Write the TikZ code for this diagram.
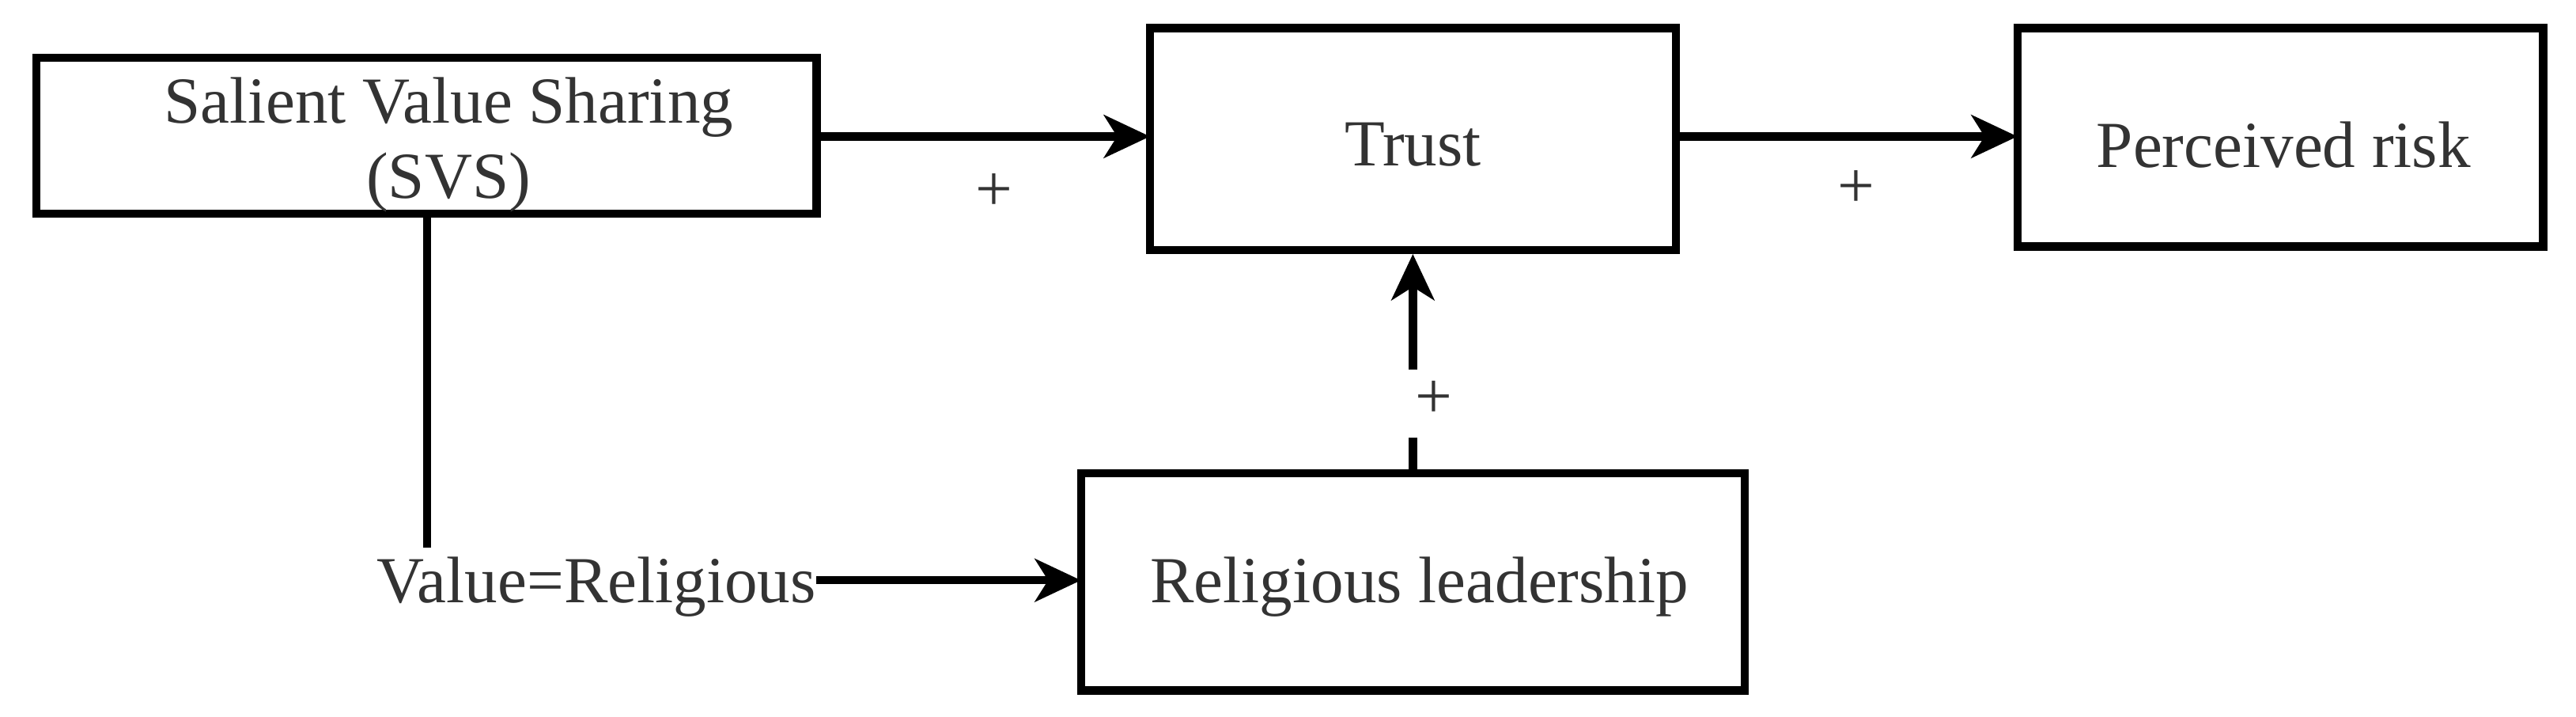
\documentclass[tikz,border=0pt]{standalone}
\usepackage{fontspec}
\setmainfont{Liberation Serif}
\usetikzlibrary{arrows.meta}
\begin{document}
\begin{tikzpicture}[x=0.5pt,y=-0.5pt,
  box/.style={draw,line width=2.5pt,inner sep=0pt},
  lbl/.style={font=\fontsize{20}{22}\selectfont,text=black!80},
  ln/.style={line width=2.5pt},
  arr/.style={ln,-{Stealth[length=14pt,width=13pt,inset=4pt]}}]
\useasboundingbox (0,0) rectangle (1568,436);
\node[box,minimum width=237.5pt,minimum height=47.5pt] (svs) at (259.5,82.5) {};
\node[lbl,align=center] (svst) at (273,88) {Salient Value Sharing\\[1pt](SVS)};
\node[box,minimum width=160pt,minimum height=67.5pt] (trust) at (860,84.5) {};
\node[lbl] at (860,88) {Trust};
\node[box,minimum width=160pt,minimum height=66.5pt] (pr) at (1388,83.5) {};
\node[lbl] at (1390,88) {Perceived risk};
\node[box,minimum width=202pt,minimum height=66pt] (rl) at (860,354) {};
\node[lbl] at (864,357) {Religious leadership};
\node[lbl,inner sep=0pt,anchor=east] (vr) at (497,357) {Value=Religious};
\coordinate (a1) at (497,83); \coordinate (a2) at (700,83);
\coordinate (b1) at (1020,83); \coordinate (b2) at (1228,83);
\coordinate (d1) at (497,353); \coordinate (d2) at (658,353);
\coordinate (e1) at (260,130); \coordinate (e2) at (260,333);
\draw[arr] (a1) -- (a2);
\draw[arr] (b1) -- (b2);
\node[lbl] (p1) at (605,117) {+};
\node[lbl] (p2) at (1130,115) {+};
\node[lbl] (p3) at (873,243) {+};
\coordinate (c1) at (860,225);
\coordinate (c2) at (860,266);
\draw[ln] (rl.north) -- (c2);
\draw[arr] (c1) -- (trust.south);
\draw[ln] (e1) -- (e2);
\draw[arr] (d1) -- (d2);
\end{tikzpicture}
\end{document}
